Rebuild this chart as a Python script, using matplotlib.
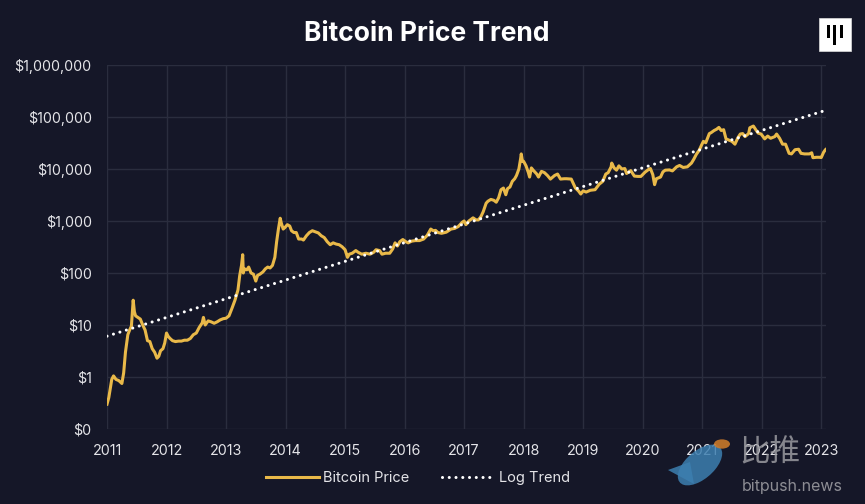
import matplotlib
matplotlib.use("Agg")
import matplotlib.pyplot as plt
from matplotlib.ticker import FixedLocator, FixedFormatter
from matplotlib.patches import Rectangle, Ellipse, Circle, Polygon

# ---------------- data ----------------
price_t = [2011.00, 2011.03, 2011.08, 2011.11, 2011.15, 2011.20, 2011.25, 2011.28, 2011.31, 2011.35,
           2011.38, 2011.41, 2011.43, 2011.44, 2011.46, 2011.48, 2011.52, 2011.56, 2011.60, 2011.64,
           2011.68, 2011.72, 2011.76, 2011.80, 2011.84, 2011.87, 2011.90, 2011.94, 2011.97, 2012.00,
           2012.03, 2012.06, 2012.10, 2012.15, 2012.20, 2012.25, 2012.30, 2012.35, 2012.40, 2012.45,
           2012.50, 2012.55, 2012.60, 2012.62, 2012.65, 2012.70, 2012.75, 2012.80, 2012.85, 2012.90,
           2012.95, 2013.00, 2013.05, 2013.10, 2013.15, 2013.20, 2013.23, 2013.26, 2013.28, 2013.29,
           2013.31, 2013.35, 2013.38, 2013.42, 2013.46, 2013.50, 2013.53, 2013.57, 2013.62, 2013.66,
           2013.70, 2013.74, 2013.78, 2013.82, 2013.85, 2013.88, 2013.91, 2013.93, 2013.96, 2013.99,
           2014.03, 2014.07, 2014.10, 2014.14, 2014.18, 2014.22, 2014.27, 2014.30, 2014.35, 2014.40,
           2014.45, 2014.50, 2014.55, 2014.60, 2014.65, 2014.70, 2014.75, 2014.80, 2014.85, 2014.90,
           2014.95, 2015.00, 2015.04, 2015.07, 2015.12, 2015.18, 2015.22, 2015.28, 2015.35, 2015.42,
           2015.48, 2015.52, 2015.58, 2015.62, 2015.68, 2015.75, 2015.80, 2015.84, 2015.88, 2015.92,
           2015.97, 2016.02, 2016.06, 2016.12, 2016.18, 2016.25, 2016.32, 2016.38, 2016.44, 2016.48,
           2016.52, 2016.56, 2016.62, 2016.70, 2016.78, 2016.84, 2016.90, 2016.97, 2017.00, 2017.03,
           2017.08, 2017.15, 2017.20, 2017.24, 2017.28, 2017.32, 2017.37, 2017.40, 2017.45, 2017.50,
           2017.54, 2017.58, 2017.62, 2017.66, 2017.70, 2017.73, 2017.77, 2017.81, 2017.85, 2017.88,
           2017.92, 2017.95, 2017.96, 2017.98, 2018.00, 2018.04, 2018.08, 2018.10, 2018.13, 2018.16,
           2018.22, 2018.25, 2018.30, 2018.35, 2018.40, 2018.45, 2018.52, 2018.57, 2018.62, 2018.68,
           2018.72, 2018.80, 2018.87, 2018.92, 2018.96, 2019.00, 2019.05, 2019.12, 2019.20, 2019.27,
           2019.33, 2019.38, 2019.42, 2019.47, 2019.48, 2019.52, 2019.56, 2019.60, 2019.65, 2019.70,
           2019.73, 2019.80, 2019.86, 2019.92, 2019.97, 2020.04, 2020.10, 2020.13, 2020.17, 2020.20,
           2020.23, 2020.30, 2020.34, 2020.38, 2020.45, 2020.50, 2020.57, 2020.62, 2020.68, 2020.75,
           2020.82, 2020.86, 2020.90, 2020.95, 2020.99, 2021.02, 2021.06, 2021.12, 2021.15, 2021.20,
           2021.24, 2021.28, 2021.32, 2021.36, 2021.40, 2021.45, 2021.50, 2021.55, 2021.60, 2021.64,
           2021.68, 2021.72, 2021.78, 2021.80, 2021.86, 2021.90, 2021.94, 2021.99, 2022.05, 2022.10,
           2022.15, 2022.22, 2022.25, 2022.30, 2022.35, 2022.40, 2022.46, 2022.50, 2022.56, 2022.62,
           2022.66, 2022.72, 2022.80, 2022.84, 2022.86, 2022.92, 2022.97, 2023.00, 2023.04, 2023.07,
           2023.08]
price_v = [0.30, 0.40, 0.90, 1.05, 0.90, 0.85, 0.75, 1.2, 3.0, 6.5,
           8.0, 9.5, 20, 30, 18, 15, 14, 13, 10, 8,
           5, 4.8, 3.5, 3.0, 2.3, 2.5, 3.2, 3.5, 4.5, 7.0,
           6.0, 5.5, 5.0, 4.8, 4.9, 4.9, 5.1, 5.1, 5.5, 6.5,
           7.0, 9.0, 11, 14, 10, 12, 11.5, 10.8, 11.5, 12.5,
           13.2, 13.5, 15, 21, 30, 47, 90, 140, 225, 100,
           120, 115, 130, 100, 95, 70, 90, 95, 105, 120,
           130, 125, 140, 200, 400, 700, 1130, 900, 700, 750,
           850, 800, 650, 600, 600, 450, 450, 430, 520, 600,
           650, 620, 590, 520, 480, 400, 350, 380, 360, 350,
           320, 280, 200, 230, 240, 270, 250, 230, 240, 230,
           250, 280, 270, 230, 240, 240, 290, 380, 330, 400,
           440, 400, 380, 410, 420, 420, 450, 530, 700, 650,
           660, 600, 580, 610, 700, 720, 780, 950, 1000, 850,
           1000, 1150, 1050, 1050, 1200, 1500, 2200, 2400, 2600, 2500,
           2300, 2800, 4000, 4300, 3200, 4200, 4500, 5800, 6500, 7500,
           10000, 16000, 19500, 14000, 14000, 11500, 8500, 7000, 10500, 9500,
           8000, 7000, 9000, 8500, 7500, 6400, 7500, 8000, 6400, 6500,
           6500, 6400, 4300, 3800, 3300, 3800, 3600, 3900, 4000, 5100,
           5800, 8000, 8500, 11000, 13000, 10500, 9500, 11500, 10000, 10200,
           8200, 9300, 7300, 7200, 7200, 8700, 9800, 10200, 7800, 5000,
           6500, 7000, 8800, 9500, 9600, 9200, 11000, 11700, 10700, 11000,
           13000, 15500, 19000, 23000, 29000, 34000, 32000, 48000, 50000, 55000,
           58000, 63000, 55000, 57000, 38000, 36000, 34000, 30000, 40000, 47000,
           48000, 42000, 48000, 62000, 67000, 57000, 49000, 47000, 38000, 43000,
           39000, 42000, 47000, 39000, 30000, 30000, 20000, 19500, 23500, 24000,
           20000, 19500, 19500, 20500, 16500, 16800, 16800, 16600, 21000, 23500,
           24000]

trend_t = [2011.0, 2023.08]
trend_v = [6.1, 135000]

year_ticks = list(range(2011, 2024))
year_labels = [str(y) for y in year_ticks]
y_ticks = [0.1, 1, 10, 100, 1000, 10000, 100000, 1000000]
y_labels = ["$0", "$1", "$10", "$100", "$1,000", "$10,000", "$100,000", "$1,000,000"]

# ---------------- style ----------------
BG = "#151728"
GOLD = "#e9b949"
GRID = "#2a2d3e"
TXT = "#e4e4e8"
plt.rcParams['font.family'] = ['Inter', 'DejaVu Sans']

fig = plt.figure(figsize=(8.65, 5.04), dpi=100, facecolor=BG)
ax = fig.add_axes([107/865, 1-429/504, (826-107)/865, (429-65)/504], facecolor=BG)

ax.plot(price_t, price_v, color=GOLD, lw=2.2, solid_joinstyle='round', label="Bitcoin Price", zorder=3)
ax.plot(trend_t, trend_v, color="white", lw=2.2, linestyle=(0, (0.01, 2.2)), dash_capstyle='round',
        label="Log Trend", zorder=4)

ax.set_yscale('log')
ax.set_ylim(0.1, 1e6)
ax.set_xlim(2011, 2023.08)
ax.yaxis.set_major_locator(FixedLocator(y_ticks))
ax.yaxis.set_major_formatter(FixedFormatter(y_labels))
ax.yaxis.set_minor_locator(FixedLocator([]))
ax.xaxis.set_major_locator(FixedLocator(year_ticks))
ax.xaxis.set_major_formatter(FixedFormatter(year_labels))

ax.grid(True, color=GRID, lw=1.0)
for s in ax.spines.values():
    s.set_visible(False)
ax.tick_params(axis='both', length=0, colors=TXT, labelsize=10.3)
ax.tick_params(axis='y', pad=11)
ax.tick_params(axis='x', pad=11)

fig.text(427/865, 1-34/504, "Bitcoin Price Trend", color="white", fontsize=19,
         fontweight='bold', ha='center', va='center')

leg = fig.legend(loc='center', bbox_to_anchor=(418/865, 1-478/504), ncol=2, frameon=False,
                 fontsize=10.5, labelcolor=TXT, handlelength=3.6, handletextpad=0.3,
                 columnspacing=2.2)

# logo (top right)
fig.patches.append(Rectangle((819/865, 1-51/504), 32/865, 33/504, transform=fig.transFigure,
                             facecolor="white", edgecolor="#dddddd", lw=0.5))
for (x0, y0, h) in [(826.5, 25, 13), (833.0, 25, 20), (839.5, 25, 13)]:
    fig.patches.append(Rectangle((x0/865, 1-(y0+h)/504), 3.2/865, h/504,
                                 transform=fig.transFigure, facecolor="black", lw=0))

# watermark (bird + coin + text)
fig.patches.append(Ellipse((700/865, 1-465/504), 34/865, 44/504, angle=-25,
                           transform=fig.transFigure, facecolor="#3d7fb0", alpha=0.85, lw=0))
fig.patches.append(Polygon([(668/865, 1-470/504), (690/865, 1-462/504), (694/865, 1-484/504)],
                           closed=True, transform=fig.transFigure, facecolor="#3d7fb0",
                           alpha=0.85, lw=0))
fig.patches.append(Circle((722/865, 1-444/504), 8/865, transform=fig.transFigure,
                          facecolor="#c8782a", alpha=0.9, lw=0))
fig.text(770/865, 1-453/504, "比推", family=['Noto Sans CJK SC', 'DejaVu Sans'], fontsize=22,
         color="#9a9aa0", ha='center', va='center', style='italic', alpha=0.85)
fig.text(792/865, 1-487/504, "bitpush.news", fontsize=11.5, color="#9a9aa0",
         ha='center', va='center', alpha=0.9)

fig.savefig("out.png", dpi=100, facecolor=BG)
